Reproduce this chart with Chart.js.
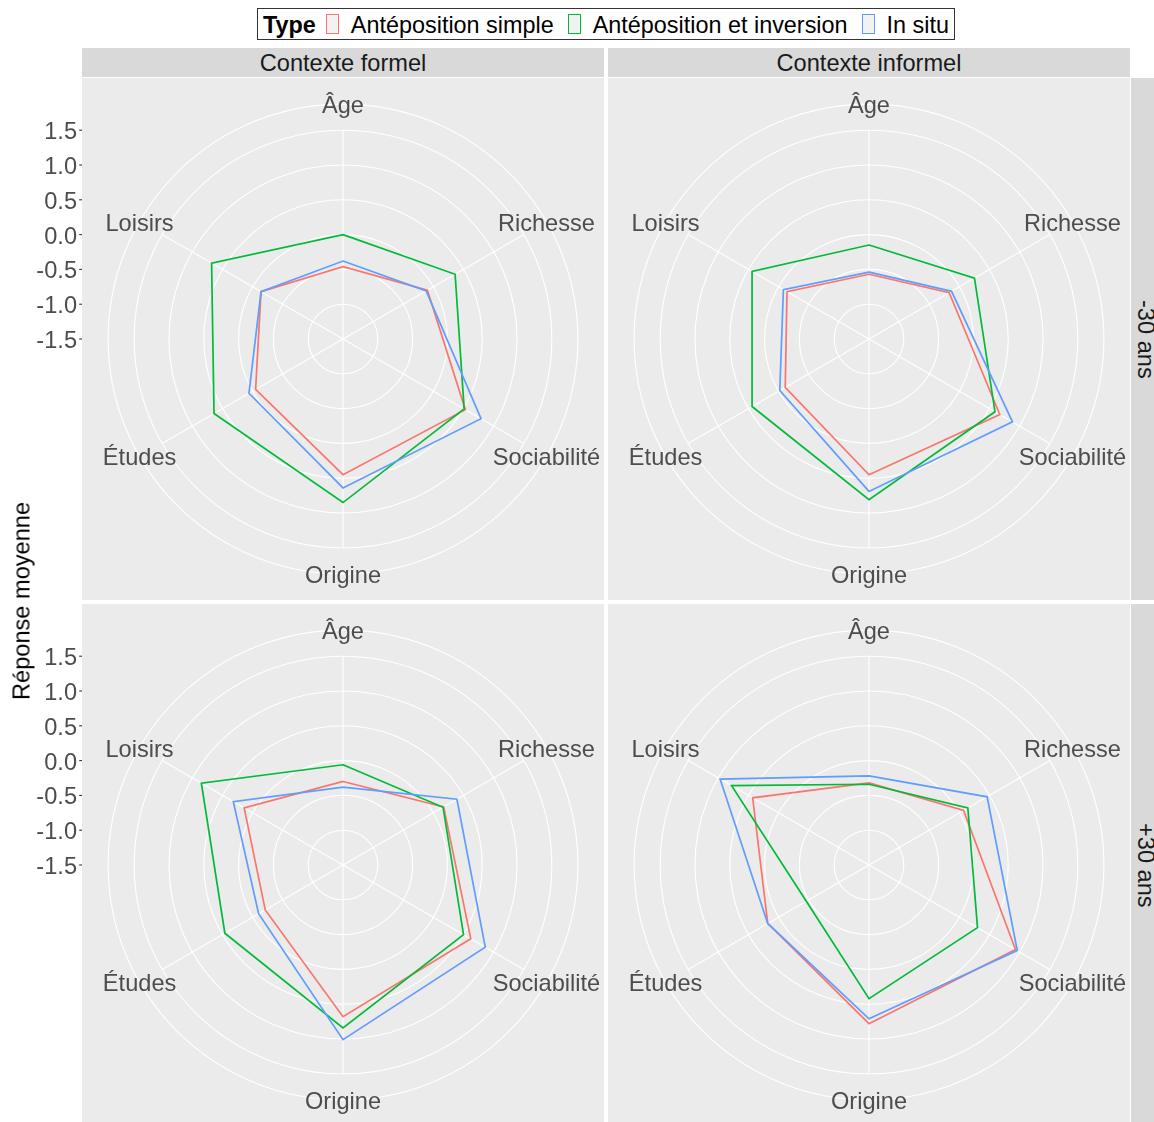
<!DOCTYPE html>
<html>
<head>
<meta charset="utf-8">
<script src="https://cdn.jsdelivr.net/npm/chart.js@4.4.1/dist/chart.umd.min.js"></script>
<style>
  body { margin: 0; background: #fff; overflow: hidden; font-family: "Liberation Sans", Arial, Helvetica, sans-serif; }
  #fig { position: relative; width: 1154px; height: 1122px; overflow: hidden; }
  canvas { position: absolute; }
  .strip-top { position: absolute; top: 48px; height: 29px; width: 522px; background: #D9D9D9; color: #1A1A1A;
               font-size: 23.6px; line-height: 31px; text-align: center; }
  .strip-right { position: absolute; left: 1131px; width: 29px; height: 522px; background: #D9D9D9; color: #1A1A1A;
                 font-size: 23.6px; writing-mode: vertical-rl; text-align: center; line-height: 29px; }
  #ytitle { position: absolute; left: 22px; top: 601px; transform: translate(-50%, -50%) rotate(-90deg);
            font-size: 23.6px; white-space: nowrap; color: #000; }
  #legend { position: absolute; left: 257px; top: 8px; width: 698px; border: 1px solid #333;
            display: flex; align-items: center; padding: 2px 5px 0 5px; box-sizing: border-box; height: 32px;
            font-size: 23.4px; color: #000; white-space: nowrap; }
  #legend b { margin-right: 10px; flex-shrink: 0; }
  .key { display: inline-block; flex-shrink: 0; width: 11px; height: 18px; background: #F2F2F2;
         border: 1px solid; margin-right: 12px; margin-top: -2px; }
  .lab { flex-shrink: 0; margin-right: 14px; }
  .lab:last-child { margin-right: 0; }
</style>
</head>
<body>
<div id="fig">
  <div id="legend"><b>Type</b></div>
  <div class="strip-top" style="left:82px">Contexte formel</div>
  <div class="strip-top" style="left:608px">Contexte informel</div>
  <div class="strip-right" style="top:78px">-30 ans</div>
  <div class="strip-right" style="top:604px">+30 ans</div>
  <canvas id="c1" width="604" height="522" style="left:0;top:78px"></canvas>
  <canvas id="c2" width="522" height="522" style="left:608px;top:78px"></canvas>
  <canvas id="c3" width="604" height="522" style="left:0;top:604px"></canvas>
  <canvas id="c4" width="522" height="522" style="left:608px;top:604px"></canvas>
  <div id="ytitle">Réponse moyenne</div>
</div>
<script>
// Axes of the radar (clockwise from the top)
const categories = ['Âge', 'Richesse', 'Sociabilité', 'Origine', 'Études', 'Loisirs'];
const seriesNames = ['Antéposition simple', 'Antéposition et inversion', 'In situ'];
const seriesColors = ['#F8766D', '#00BA38', '#619CFF'];

// Radial axis
const yTicks = [1.5, 1.0, 0.5, 0.0, -0.5, -1.0, -1.5];
const yTickLabels = ['1.5', '1.0', '0.5', '0.0', '-0.5', '-1.0', '-1.5'];
const rMin = -1.5;
const rMax = 2.25;      // 1.5 sits at 80% of the radius, like coord_polar
const outerRing = 1.875; // the extra circle at 0.45 where the axis names sit
const gridRings = [-1.0, -0.5, 0.0, 0.5, 1.0, 1.5, 1.875];

// Contexte formel, -30 ans
const formelJeunesSimple = [-0.46, -0.10, 0.53, 0.45, -0.05, -0.14];
const formelJeunesInversion = [0.00, 0.36, 0.51, 0.85, 0.64, 0.68];
const formelJeunesInSitu = [-0.38, -0.12, 0.79, 0.64, 0.06, -0.14];

// Contexte informel, -30 ans
const informelJeunesSimple = [-0.57, -0.17, 0.67, 0.45, -0.11, -0.14];
const informelJeunesInversion = [-0.15, 0.25, 0.59, 0.81, 0.44, 0.44];
const informelJeunesInSitu = [-0.54, -0.13, 0.88, 0.69, -0.02, -0.08];

// Contexte formel, +30 ans
const formelAinesSimple = [-0.30, 0.17, 0.62, 0.68, -0.21, 0.14];
const formelAinesInversion = [-0.06, 0.16, 0.50, 0.84, 0.46, 0.85];
const formelAinesInSitu = [-0.38, 0.39, 0.86, 1.01, -0.10, 0.32];

// Contexte informel, +30 ans
const informelAinesSimple = [-0.32, 0.07, 0.93, 0.78, 0.18, 0.43];
const informelAinesInversion = [-0.34, 0.14, 0.30, 0.42, -0.46, 0.78];
const informelAinesInSitu = [-0.22, 0.46, 0.96, 0.71, 0.18, 0.97];

const FONT = '"Liberation Sans", Arial, Helvetica, sans-serif';

// Legend entries
const legend = document.getElementById('legend');
seriesNames.forEach((name, i) => {
    const key = document.createElement('span');
    key.className = 'key';
    key.style.borderColor = seriesColors[i];
    const lab = document.createElement('span');
    lab.className = 'lab';
    lab.textContent = name;
    legend.appendChild(key);
    legend.appendChild(lab);
});

// Panel background, spokes, axis names and left tick labels
const panelPlugin = {
    id: 'panel',
    beforeDraw(chart) {
        const { ctx, chartArea: a } = chart;
        ctx.save();
        ctx.fillStyle = '#EBEBEB';
        ctx.fillRect(a.left, a.top, a.right - a.left, a.bottom - a.top);
        ctx.restore();
    },
    beforeDatasetsDraw(chart) {
        const s = chart.scales.r;
        const ctx = chart.ctx;
        ctx.save();
        ctx.strokeStyle = '#FFFFFF';
        ctx.lineWidth = 1.1;
        categories.forEach((c, i) => {
            const p = s.getPointPositionForValue(i, 1.5);
            ctx.beginPath();
            ctx.moveTo(s.xCenter, s.yCenter);
            ctx.lineTo(p.x, p.y);
            ctx.stroke();
        });
        ctx.restore();
    },
    afterDraw(chart, args, opts) {
        const s = chart.scales.r;
        const ctx = chart.ctx;
        ctx.save();
        ctx.font = '23.6px ' + FONT;
        ctx.fillStyle = '#4D4D4D';
        ctx.textAlign = 'center';
        ctx.textBaseline = 'middle';
        categories.forEach((c, i) => {
            const p = s.getPointPositionForValue(i, outerRing);
            ctx.fillText(c, p.x, p.y + 2.5);
        });
        if (opts.yAxis) {
            const left = chart.chartArea.left;
            ctx.textAlign = 'right';
            ctx.strokeStyle = '#333333';
            ctx.lineWidth = 1.1;
            yTicks.forEach((v, i) => {
                const y = s.yCenter - s.getDistanceFromCenterForValue(v);
                ctx.beginPath();
                ctx.moveTo(left - 2.8, y);
                ctx.lineTo(left, y);
                ctx.stroke();
                ctx.fillText(yTickLabels[i], left - 5, y + 2.5);
            });
        }
        ctx.restore();
    }
};

function makeRadar(id, series, withAxis) {
    const datasets = series.map((data, i) => ({
        label: seriesNames[i],
        data: data,
        borderColor: seriesColors[i],
        borderWidth: 1.7,
        fill: false,
        pointRadius: 0,
        tension: 0,
        order: series.length - i
    }));
    return new Chart(document.getElementById(id), {
        type: 'radar',
        data: { labels: categories, datasets: datasets },
        plugins: [panelPlugin],
        options: {
            responsive: false,
            animation: false,
            events: [],
            layout: { padding: { left: withAxis ? 82 : 0, right: 0, top: 0, bottom: 0 } },
            scales: {
                r: {
                    min: rMin,
                    max: rMax,
                    afterBuildTicks: (scale) => {
                        scale.ticks = gridRings.map(v => ({ value: v }));
                    },
                    ticks: { display: false },
                    grid: { circular: true, color: '#FFFFFF', lineWidth: 1.1 },
                    angleLines: { display: false },
                    pointLabels: { display: false }
                }
            },
            plugins: {
                legend: { display: false },
                tooltip: { enabled: false },
                panel: { yAxis: withAxis }
            }
        }
    });
}

makeRadar('c1', [formelJeunesSimple, formelJeunesInversion, formelJeunesInSitu], true);
makeRadar('c2', [informelJeunesSimple, informelJeunesInversion, informelJeunesInSitu], false);
makeRadar('c3', [formelAinesSimple, formelAinesInversion, formelAinesInSitu], true);
makeRadar('c4', [informelAinesSimple, informelAinesInversion, informelAinesInSitu], false);
</script>
</body>
</html>
